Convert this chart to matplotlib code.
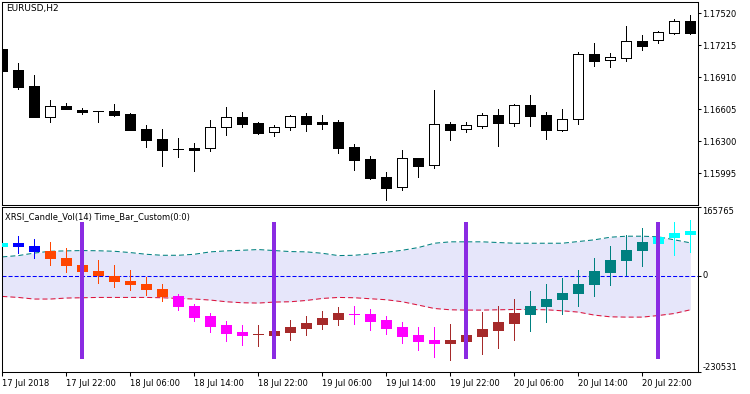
import matplotlib
matplotlib.use("Agg")
import matplotlib.pyplot as plt
import numpy as np

plt.rcParams['font.family'] = ['DejaVu Sans']
plt.rcParams['lines.scale_dashes'] = False

# ---------------- data ----------------
price_open = [1.17180, 1.16980, 1.16827, 1.16535, 1.16637, 1.16601, 1.16590, 1.16589, 1.16560, 1.16417,
              1.16322, 1.16224, 1.16236, 1.16233, 1.16434, 1.16532, 1.16475, 1.16386, 1.16434, 1.16538,
              1.16484, 1.16484, 1.16246, 1.16131, 1.15960, 1.15862, 1.16141, 1.16071, 1.16465, 1.16420,
              1.16449, 1.16551, 1.16477, 1.16646, 1.16551, 1.16411, 1.16510, 1.17132, 1.17072, 1.17097,
              1.17256, 1.17263, 1.17335, 1.17447]
price_high = [1.17180, 1.17049, 1.16932, 1.16694, 1.16668, 1.16618, 1.16592, 1.16656, 1.16570, 1.16456,
              1.16420, 1.16334, 1.16287, 1.16506, 1.16630, 1.16579, 1.16484, 1.16456, 1.16551, 1.16570,
              1.16551, 1.16503, 1.16274, 1.16163, 1.16008, 1.16217, 1.16141, 1.16789, 1.16484, 1.16484,
              1.16570, 1.16608, 1.16656, 1.16741, 1.16579, 1.16608, 1.17151, 1.17237, 1.17142, 1.17402,
              1.17313, 1.17351, 1.17466, 1.17504]
price_low = [1.16973, 1.16799, 1.16535, 1.16487, 1.16605, 1.16563, 1.16487, 1.16544, 1.16411, 1.16249,
             1.16068, 1.16153, 1.16020, 1.16211, 1.16360, 1.16436, 1.16373, 1.16353, 1.16411, 1.16401,
             1.16420, 1.16192, 1.16030, 1.15944, 1.15744, 1.15839, 1.15963, 1.16049, 1.16315, 1.16392,
             1.16430, 1.16258, 1.16449, 1.16449, 1.16325, 1.16401, 1.16468, 1.17021, 1.17011, 1.17068,
             1.17173, 1.17234, 1.17326, 1.17326]
price_close = [1.16973, 1.16821, 1.16535, 1.16637, 1.16605, 1.16582, 1.16589, 1.16551, 1.16411, 1.16315,
               1.16220, 1.16224, 1.16220, 1.16436, 1.16532, 1.16468, 1.16382, 1.16436, 1.16538, 1.16468,
               1.16468, 1.16239, 1.16125, 1.15953, 1.15858, 1.16138, 1.16068, 1.16465, 1.16411, 1.16456,
               1.16551, 1.16477, 1.16646, 1.16544, 1.16411, 1.16513, 1.17132, 1.17068, 1.17104, 1.17256,
               1.17211, 1.17342, 1.17447, 1.17335]

xrsi_open = [72808, 78332, 72087, 60798, 43984, 26449, 12758, -934, -11262, -18468,
             -30478, -48974, -71312, -95332, -116950, -133764, -140000, -140250, -133044, -123436,
             -113828, -101818, -90000, -92210, -104220, -121034, -140250, -152260, -159466, -154662,
             -142652, -128240, -111426, -92210, -72994, -56180, -41768, -20150, 8674, 37498,
             61518, 80014, 92744, 99950]
xrsi_high = [78332, 96828, 89622, 82416, 67283, 45000, 39180, 27170, 15160, -1654,
             -18468, -42488, -66508, -89808, -106622, -116230, -116230, -118000, -104220, -94612,
             -85004, -75396, -72994, -80200, -94612, -109024, -121034, -121034, -113828, -120000,
             -87406, -72994, -56180, -36964, -20150, -5738, 13478, 42302, 71126, 97548,
             113642, 115000, 128054, 132858]
xrsi_low = [72808, 55273, 42302, 25488, 8674, -8000, -17748, -27356, -34562, -44890,
            -60984, -82602, -106622, -133044, -154662, -164270, -166672, -150000, -152260, -140970,
            -125838, -116950, -113828, -128240, -137848, -159466, -176280, -193094, -200300, -175000,
            -185888, -171476, -152260, -130642, -109024, -92210, -72994, -48974, -22552, 1468,
            23086, 60000, 49508, 56714]
xrsi_close = [78332, 72087, 59116, 42302, 25488, 11076, 1468, -12944, -20150, -32160,
              -48974, -72994, -97014, -118632, -135446, -140250, -138600, -131362, -121034, -111426,
              -99416, -89808, -92210, -106622, -123436, -142652, -154662, -159466, -152260, -140250,
              -125838, -109024, -89808, -72033, -54498, -40086, -18468, 11076, 39180, 63200,
              82416, 94426, 102352, 107156]
xrsi_color = (['#00FFFF'] + ['#0000FF'] * 2 + ['#FF4500'] * 8 + ['#FF00FF'] * 5 +
              ['#A52A2A'] * 6 + ['#FF00FF'] * 6 + ['#A52A2A'] * 5 + ['#008080'] * 8 +
              ['#00FFFF'] * 3)

band_upper = [45665, 48788, 54793, 59116, 60077, 60798, 60317, 59116, 55994, 51910,
              49508, 49508, 51910, 57675, 60077, 61518, 63200, 60798, 58396, 57675,
              54312, 48788, 49508, 52871, 56714, 61518, 68004, 78332, 81695, 81695,
              81695, 80014, 78332, 78332, 78332, 78332, 82416, 86499, 92744, 95146,
              95146, 93705, 86499, 79293]
band_lower = [-48974, -51376, -55219, -55219, -52817, -52096, -51376, -51376, -51376, -51376,
              -52096, -53778, -55219, -57621, -61704, -64106, -64827, -62425, -61704, -58582,
              -53778, -51376, -52096, -54498, -56900, -61704, -69631, -77798, -80920, -81641,
              -81641, -80920, -80200, -80200, -80920, -83322, -86445, -93651, -97734, -98455,
              -98455, -94612, -89808, -80920]

time_bar_idx = [5, 17, 29, 41]
time_bar_high = 128800
time_bar_low = -198600

price_ticks = [1.17520, 1.17215, 1.16910, 1.16605, 1.16300, 1.15995]
xrsi_ticks = [-230531, 0, 165765]
x_tick_idx = [0, 4, 8, 12, 16, 20, 24, 28, 32, 36, 40]
x_tick_labels = ['17 Jul 2018', '17 Jul 22:00', '18 Jul 06:00', '18 Jul 14:00', '18 Jul 22:00',
                 '19 Jul 06:00', '19 Jul 14:00', '19 Jul 22:00', '20 Jul 06:00', '20 Jul 14:00',
                 '20 Jul 22:00']

# ---------------- figure ----------------
W, H = 750, 394
fig = plt.figure(figsize=(W / 100, H / 100), dpi=100)


def rect(x0, y0, x1, y1):
    return [x0 / W, 1 - y1 / H, (x1 - x0) / W, (y1 - y0) / H]


ax1 = fig.add_axes(rect(2, 2, 697.7, 204.7))
ax2 = fig.add_axes(rect(2, 206.7, 697.7, 372.3))

n = len(price_open)
x = np.arange(n)
XL = (-0.02, 43.46)
BW = 0.62
LW = 0.6

# price candles
po, ph, pl, pc = map(np.array, (price_open, price_high, price_low, price_close))
bull = pc > po
ax1.vlines(x, pl, ph, colors='black', linewidth=LW, antialiased=False, zorder=2)
ax1.bar(x, np.abs(pc - po), bottom=np.minimum(po, pc), width=BW,
        color=np.where(bull, 'white', 'black'), edgecolor='black', linewidth=LW,
        antialiased=False, zorder=3)
ax1.set_xlim(*XL)
ax1.set_ylim(1.15696, 1.17628)
ax1.set_xticks([])
ax1.yaxis.tick_right()
ax1.set_yticks(price_ticks)
ax1.set_yticklabels(['%.5f' % v for v in price_ticks])
ax1.tick_params(axis='y', direction='out', length=2.4, width=0.75, pad=1, labelsize=6)

# indicator window
ax2.fill_between(x, band_lower, band_upper, color='#E6E6FA', linewidth=0, zorder=0.5)
ax2.axhline(0, color='#0000FF', linewidth=0.75, dashes=(2.9, 1.45), zorder=1)
ax2.plot(x, band_upper, color='#008080', linewidth=0.75, dashes=(3.6, 2.2), zorder=1.5)
ax2.plot(x, band_lower, color='#DC143C', linewidth=0.75, dashes=(3.6, 2.2), zorder=1.5)
xo, xh, xl, xc = map(np.array, (xrsi_open, xrsi_high, xrsi_low, xrsi_close))
ax2.vlines(x, xl, xh, colors=xrsi_color, linewidth=LW, antialiased=False, zorder=2)
ax2.bar(x, np.abs(xc - xo), bottom=np.minimum(xo, xc), width=BW, color=xrsi_color,
        edgecolor=xrsi_color, linewidth=LW, antialiased=False, zorder=3)
ax2.bar(time_bar_idx, time_bar_high - time_bar_low, bottom=time_bar_low, width=0.25,
        color='#8A2BE2', linewidth=0, zorder=4)
ax2.set_xlim(*XL)
ax2.set_ylim(-230531, 165765)
ax2.yaxis.tick_right()
ax2.set_yticks(xrsi_ticks)
ax2.set_yticklabels([str(v) for v in xrsi_ticks])
for lab, va in zip(ax2.get_yticklabels(), ['bottom', 'center', 'top']):
    lab.set_va(va)
ax2.tick_params(axis='y', direction='out', length=2.4, width=0.75, pad=1, labelsize=6)
ax2.set_xticks(x_tick_idx)
ax2.set_xticklabels(x_tick_labels)
for lab in ax2.get_xticklabels():
    lab.set_ha('left')
ax2.tick_params(axis='x', direction='out', length=3, width=0.75, pad=1.5, labelsize=6)

for ax in (ax1, ax2):
    for s in ax.spines.values():
        s.set_linewidth(0.75)
        s.set_color('black')

fig.text(6 / W, 1 - 4.5 / H, 'EURUSD,H2', ha='left', va='top', fontsize=6.5)
fig.text(5 / W, 1 - 212 / H, 'XRSI_Candle_Vol(14) Time_Bar_Custom(0:0)', ha='left', va='top', fontsize=6)

fig.savefig('out.png', dpi=100, facecolor='white')
